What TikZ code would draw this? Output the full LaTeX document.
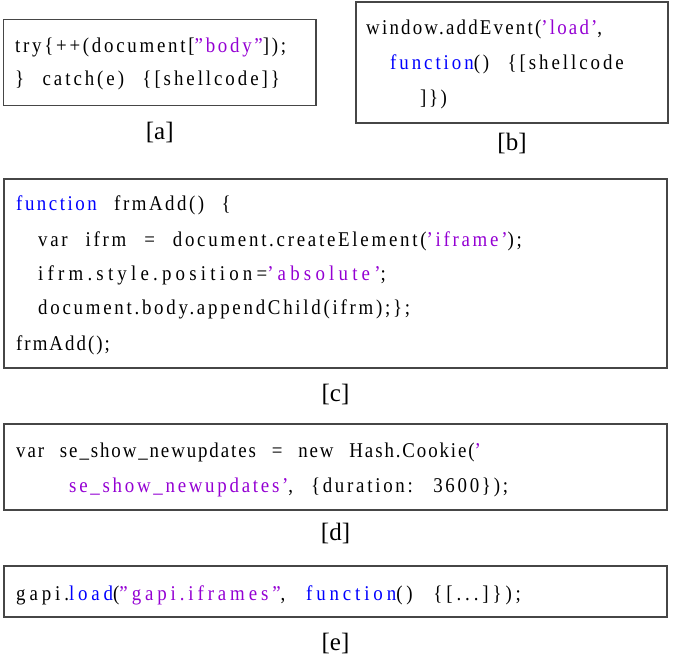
\documentclass[tikz,border=0pt]{standalone}
\usepackage{fontspec}
\setmainfont{Liberation Serif}
\newfontfamily\codefam[FakeStretch=0.9,WordSpace=2.4]{Liberation Serif}
\usetikzlibrary{positioning}

\definecolor{kwblue}{RGB}{0,0,255}
\definecolor{strpurple}{RGB}{148,0,211}
\definecolor{framegray}{RGB}{70,70,70}

\newcommand{\codefont}[1]{\codefam\fontsize{21}{24}\selectfont\addfontfeatures{LetterSpace=#1}}
\newcommand{\kwd}[1]{\textcolor{kwblue}{#1}}
\newcommand{\strng}[1]{\textcolor{strpurple}{#1}}

\begin{document}
\begin{tikzpicture}[
    x=1pt, y=-1pt,
    codebox/.style = {draw=framegray, line width=1.3pt, inner sep=0pt, outer sep=0pt},
    codeline/.style = {anchor=base west, inner sep=0pt, font=\codefont{#1}},
    caption/.style = {inner sep=0pt, outer sep=0pt, font=\fontsize{25}{28}\selectfont}
  ]
  \useasboundingbox (0,0) rectangle (674,655);

  % [a] try / catch
  \node[codebox, minimum width=312.5pt, minimum height=86pt] (boxA) at (159.75,62.5) {};
  \node[codeline=13] (a1) at (15,53) {try\{++(document[\strng{”body”}]);};
  \node[codeline=14] (a2) at (15,86) {\} catch(e) \{[shellcode]\}};
  \node[caption, below=16.5pt of boxA] (capA) {[a]};

  % [b] addEvent
  \node[codebox, minimum width=312pt, minimum height=121pt] (boxB) at (512,62.5) {};
  \node[codeline=10.5] (b1) at (366,35) {window.addEvent(\strng{’load’},};
  \node[codeline=14] (b2) at (390,70) {\kwd{function}() \{[shellcode};
  \node[codeline=12] (b3) at (420,105) {]\})};
  \node[caption, below=10pt of boxB] (capB) {[b]};

  % [c] iframe
  \node[codebox, minimum width=663pt, minimum height=189pt] (boxC) at (335.5,273.5) {};
  \node[codeline=12] (c1) at (16,211) {\kwd{function} frmAdd() \{};
  \node[codeline=13] (c2) at (38,246) {var ifrm = document.createElement(\strng{’iframe’});};
  \node[codeline=20] (c3) at (38,280) {ifrm.style.position=\strng{’absolute’};};
  \node[codeline=13] (c4) at (38,314.5) {document.body.appendChild(ifrm);\};};
  \node[codeline=9.5] (c5) at (16,350) {frmAdd();};
  \node[caption, below=16pt of boxC] (capC) {[c]};

  % [d] cookie
  \node[codebox, minimum width=663pt, minimum height=86pt] (boxD) at (335.5,467) {};
  \node[codeline=9] (d1) at (16,457) {var se\_show\_newupdates = new Hash.Cookie(\strng{’}};
  \node[codeline=13] (d2) at (69,492) {\strng{se\_show\_newupdates’}, \{duration: 3600\});};
  \node[caption, below=13pt of boxD] (capD) {[d]};

  % [e] gapi
  \node[codebox, minimum width=663pt, minimum height=51pt] (boxE) at (335.5,591.5) {};
  \node[codeline=18.5] (e1) at (16,600) {gapi.\kwd{load}(\strng{”gapi.iframes”}, \kwd{function}() \{[...]\});};
  \node[caption, below=16pt of boxE] (capE) {[e]};
\end{tikzpicture}
\end{document}
